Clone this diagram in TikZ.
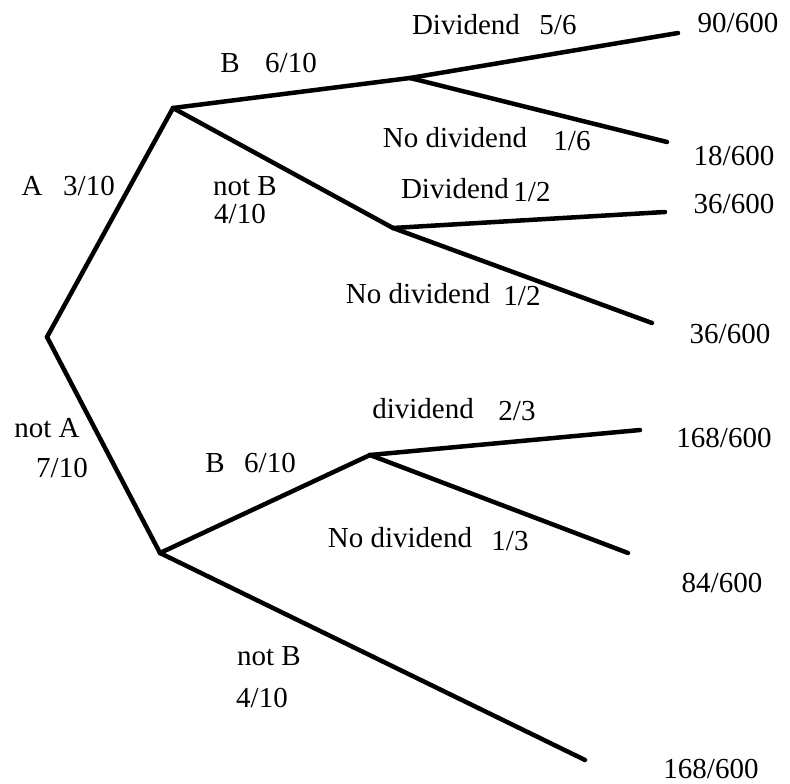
\documentclass[tikz,border=0pt]{standalone}
\usepackage{fontspec}
\setmainfont{Liberation Serif}
\begin{document}
\begin{tikzpicture}[x=1pt,y=-1pt,
  branch/.style={line width=4.5pt,line cap=round,line join=round},
  lbl/.style={inner sep=0pt,anchor=base,font=\fontsize{29}{34}\selectfont}]
\useasboundingbox (0,0) rectangle (790,784);
% tree points
\coordinate (root) at (47,337);
\coordinate (a) at (173,108);
\coordinate (na) at (160,553);
\coordinate (ab) at (410,78);
\coordinate (anb) at (393,228);
\coordinate (nab) at (370,455);
\coordinate (l1) at (678,33);
\coordinate (l2) at (667,142);
\coordinate (l3) at (665,212);
\coordinate (l4) at (652,323);
\coordinate (l5) at (640,430);
\coordinate (l6) at (628,553);
\coordinate (l7) at (585,760);
% branches
\draw[branch] (root) -- (a);
\draw[branch] (root) -- (na);
\draw[branch] (a) -- (ab);
\draw[branch] (a) -- (anb);
\draw[branch] (ab) -- (l1);
\draw[branch] (ab) -- (l2);
\draw[branch] (anb) -- (l3);
\draw[branch] (anb) -- (l4);
\draw[branch] (na) -- (nab);
\draw[branch] (na) -- (l7);
\draw[branch] (nab) -- (l5);
\draw[branch] (nab) -- (l6);
% labels
\node[lbl] (t1a) at (466,35) {Dividend};
\node[lbl] (t1b) at (558,35) {5/6};
\node[lbl] (p1) at (738,33) {90/600};
\node[lbl] (t2a) at (230,73) {B};
\node[lbl] (t2b) at (291,73) {6/10};
\node[lbl] (t3a) at (455,147) {No dividend};
\node[lbl] (t3b) at (572,150) {1/6};
\node[lbl] (p2) at (734,165) {18/600};
\node[lbl] (t4a) at (32,195) {A};
\node[lbl] (t4b) at (89,195) {3/10};
\node[lbl] (t5a) at (245,195) {not B};
\node[lbl] (t5b) at (240,223) {4/10};
\node[lbl] (t6a) at (455,198) {Dividend};
\node[lbl] (t6b) at (532,201) {1/2};
\node[lbl] (p3) at (734,213) {36/600};
\node[lbl] (t7a) at (418,303) {No dividend};
\node[lbl] (t7b) at (522,305) {1/2};
\node[lbl] (p4) at (730,343) {36/600};
\node[lbl] (t8a) at (47,437) {not A};
\node[lbl] (t8b) at (62,477) {7/10};
\node[lbl] (t9a) at (215,472) {B};
\node[lbl] (t9b) at (270,472) {6/10};
\node[lbl] (t10a) at (423,418) {dividend};
\node[lbl] (t10b) at (517,420) {2/3};
\node[lbl] (p5) at (724,447) {168/600};
\node[lbl] (t11a) at (400,547) {No dividend};
\node[lbl] (t11b) at (510,550) {1/3};
\node[lbl] (p6) at (722,592) {84/600};
\node[lbl] (t12a) at (269,665) {not B};
\node[lbl] (t12b) at (262,707) {4/10};
\node[lbl] (p7) at (711,778) {168/600};
\end{tikzpicture}
\end{document}
